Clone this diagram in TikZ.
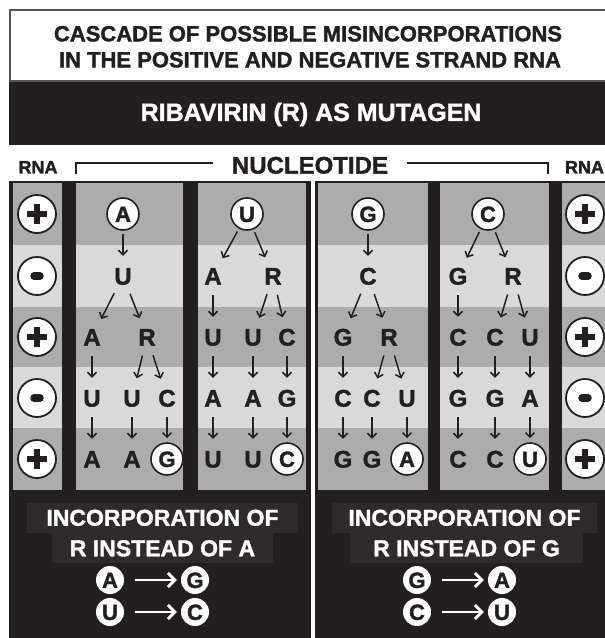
\documentclass[tikz,border=0pt]{standalone}
\usepackage{fontspec}
\setmainfont{Liberation Sans}[BoldFeatures={FakeBold=1.5}]
\usepackage{tikz}
\usetikzlibrary{arrows.meta,shapes}
\usetikzlibrary{positioning}

\definecolor{ink}{RGB}{35,31,32}
\definecolor{banddark}{RGB}{172,172,172}
\definecolor{bandlight}{RGB}{217,217,217}
\definecolor{boxshade}{RGB}{47,43,44}
\definecolor{rim}{RGB}{85,85,85}

\tikzset{
  nt/.style={circle, inner sep=0pt, minimum size=32pt, text=ink,
    font=\bfseries\fontsize{24}{24}\selectfont, text height=17.2pt, text depth=0pt},
  ntc/.style={nt, draw=ink, fill=white, line width=1.6pt,
    font=\bfseries\fontsize{22}{22}\selectfont, text height=15.8pt},
  arr/.style={-{Straight Barb[length=4.5pt, width=9pt]}, draw=ink, line width=1.5pt,
    shorten <=3pt, shorten >=4pt},
  sgn/.style={circle, draw=ink, fill=white, line width=1.8pt, minimum size=38pt, inner sep=0pt},
  bar/.style={draw=ink, line width=6.5pt},
  hd/.style={inner sep=0pt, text depth=0pt},
  bt/.style={hd, text=white, fill=boxshade, minimum height=30pt,
    font=\bfseries\fontsize{23}{23}\selectfont, text height=16.5pt},
  bc/.style={circle, fill=white, inner sep=0pt, minimum size=28pt, text=ink,
    font=\bfseries\fontsize{22}{22}\selectfont, text height=15.8pt, text depth=0pt},
  warr/.style={-{Straight Barb[length=7pt, width=14pt]}, draw=white, line width=2.8pt,
    shorten <=11pt, shorten >=4pt},
  brk/.style={draw=ink, line width=1.8pt}
}

\begin{document}
\begin{tikzpicture}[x=1pt, y=-1pt]
  \useasboundingbox (0,0) rectangle (605,638);

  % frame and titles
  \fill[ink] (9,9) rectangle (605,638);
  \draw[rim, line width=1.5pt, fill=white] (9.75,9.75) rectangle (607,81);
  \node (t1) [hd, text=ink, font=\bfseries\fontsize{22}{22}\selectfont, text height=15.7pt]
    at (308,33.5) {CASCADE OF POSSIBLE MISINCORPORATIONS};
  \node (t2) [hd, text=ink, font=\bfseries\fontsize{22}{22}\selectfont, text height=15.7pt]
    at (310,59.5) {IN THE POSITIVE AND NEGATIVE STRAND RNA};
  \node (rib) [hd, text=white, font=\bfseries\fontsize{25}{25}\selectfont, text height=17.9pt]
    at (311,112) {RIBAVIRIN (R) AS MUTAGEN};

  % strip with the bracket
  \fill[white] (9,145) rectangle (605,181);
  \node (rnal) [hd, text=ink, font=\bfseries\fontsize{18}{18}\selectfont, text height=12.9pt]
    at (38,167) {RNA};
  \node (rnar) [hd, text=ink, font=\bfseries\fontsize{18}{18}\selectfont, text height=12.9pt]
    at (584.5,167) {RNA};
  \node (nuc) [hd, text=ink, font=\bfseries\fontsize{24}{24}\selectfont, text height=17.2pt]
    at (310,165) {NUCLEOTIDE};
  \coordinate (bl) at (76,174);
  \coordinate (br) at (548,174);
  \draw[brk] (bl) |- ([xshift=-19pt, yshift=2pt]nuc.west);
  \draw[brk] ([xshift=19pt, yshift=2pt]nuc.east) -| (br);

  % columns
  \foreach \xa/\xb in {13/62, 76/183, 198/306, 318/428, 440/549, 562/605}
    \foreach \ya/\yb/\c in {183/245/banddark, 245/307/bandlight, 307/367/banddark,
                            367/428/bandlight, 428/490/banddark}
      \fill[\c] (\xa,\ya) rectangle (\xb,\yb);
  \fill[white] (311,181) rectangle (314.5,638);

  % strand signs
  \foreach \y [count=\i] in {214,276,337,398,459} {
    \node (l\i) [sgn] at (37,\y) {};
    \node (r\i) [sgn] at (585,\y) {};
  }
  \foreach \n in {l1,l3,l5,r1,r3,r5} {
    \draw[bar] ([xshift=-10pt]\n.center) -- ([xshift=10pt]\n.center);
    \draw[bar] ([yshift=-10pt]\n.center) -- ([yshift=10pt]\n.center);
  }
  \foreach \n in {l2,l4,r2,r4}
    \draw[bar, line width=7.5pt, line cap=round] ([xshift=-3pt]\n.center) -- ([xshift=3pt]\n.center);

  % A
  \node (a1) [ntc] at (123,214) {A};
  \node (a2) [nt] at (123,276) {U};
  \node (a3) [nt] at (92,337) {A};
  \node (a4) [nt] at (147,337) {R};
  \node (a5) [nt] at (92,398) {U};
  \node (a6) [nt] at (132,398) {U};
  \node (a7) [nt] at (167,398) {C};
  \node (a8) [nt] at (92,459) {A};
  \node (a9) [nt] at (132,459) {A};
  \node (a10) [ntc] at (167,459) {G};
  \draw[arr] (a1) -- (a2);
  \draw[arr] (a2) -- (a3);
  \draw[arr] (a2) -- (a4);
  \draw[arr] (a3) -- (a5);
  \draw[arr] (a4) -- (a6);
  \draw[arr] (a4) -- (a7);
  \draw[arr] (a5) -- (a8);
  \draw[arr] (a6) -- (a9);
  \draw[arr] (a7) -- (a10);

  % U
  \node (u1) [ntc] at (247,214) {U};
  \node (u2) [nt] at (213,276) {A};
  \node (u3) [nt] at (273,276) {R};
  \node (u4) [nt] at (213,337) {U};
  \node (u5) [nt] at (253,337) {U};
  \node (u6) [nt] at (287,337) {C};
  \node (u7) [nt] at (213,398) {A};
  \node (u8) [nt] at (253,398) {A};
  \node (u9) [nt] at (287,398) {G};
  \node (u10) [nt] at (213,459) {U};
  \node (u11) [nt] at (253,459) {U};
  \node (u12) [ntc] at (287,459) {C};
  \draw[arr] (u1) -- (u2);
  \draw[arr] (u1) -- (u3);
  \draw[arr] (u2) -- (u4);
  \draw[arr] (u3) -- (u5);
  \draw[arr] (u3) -- (u6);
  \draw[arr] (u4) -- (u7);
  \draw[arr] (u5) -- (u8);
  \draw[arr] (u6) -- (u9);
  \draw[arr] (u7) -- (u10);
  \draw[arr] (u8) -- (u11);
  \draw[arr] (u9) -- (u12);

  % G
  \node (g1) [ntc] at (368,214) {G};
  \node (g2) [nt] at (368,276) {C};
  \node (g3) [nt] at (343,337) {G};
  \node (g4) [nt] at (389,337) {R};
  \node (g5) [nt] at (343,398) {C};
  \node (g6) [nt] at (372,398) {C};
  \node (g7) [nt] at (407,398) {U};
  \node (g8) [nt] at (343,459) {G};
  \node (g9) [nt] at (372,459) {G};
  \node (g10) [ntc] at (407,459) {A};
  \draw[arr] (g1) -- (g2);
  \draw[arr] (g2) -- (g3);
  \draw[arr] (g2) -- (g4);
  \draw[arr] (g3) -- (g5);
  \draw[arr] (g4) -- (g6);
  \draw[arr] (g4) -- (g7);
  \draw[arr] (g5) -- (g8);
  \draw[arr] (g6) -- (g9);
  \draw[arr] (g7) -- (g10);

  % C
  \node (c1) [ntc] at (488,214) {C};
  \node (c2) [nt] at (458,276) {G};
  \node (c3) [nt] at (513,276) {R};
  \node (c4) [nt] at (458,337) {C};
  \node (c5) [nt] at (495,337) {C};
  \node (c6) [nt] at (530,337) {U};
  \node (c7) [nt] at (458,398) {G};
  \node (c8) [nt] at (495,398) {G};
  \node (c9) [nt] at (530,398) {A};
  \node (c10) [nt] at (458,459) {C};
  \node (c11) [nt] at (495,459) {C};
  \node (c12) [ntc] at (530,459) {U};
  \draw[arr] (c1) -- (c2);
  \draw[arr] (c1) -- (c3);
  \draw[arr] (c2) -- (c4);
  \draw[arr] (c3) -- (c5);
  \draw[arr] (c3) -- (c6);
  \draw[arr] (c4) -- (c7);
  \draw[arr] (c5) -- (c8);
  \draw[arr] (c6) -- (c9);
  \draw[arr] (c7) -- (c10);
  \draw[arr] (c8) -- (c11);
  \draw[arr] (c9) -- (c12);

  % summaries
  \node (li1) [bt, minimum width=271pt] at (162.5,517.5) {INCORPORATION OF};
  \node (li2) [bt, minimum width=221pt] at (162.5,548) {R INSTEAD OF A};
  \node (ri1) [bt, minimum width=265pt] at (464.5,517.5) {INCORPORATION OF};
  \node (ri2) [bt, minimum width=233pt] at (466.5,548) {R INSTEAD OF G};

  \node (la) [bc] at (110,580) {A};
  \node (lg) [bc] at (195,580) {G};
  \node (lu) [bc] at (110,612) {U};
  \node (lc) [bc] at (195,612) {C};
  \draw[warr] (la) -- (lg);
  \draw[warr] (lu) -- (lc);

  \node (rg) [bc] at (417,580) {G};
  \node (ra) [bc] at (502,580) {A};
  \node (rc) [bc] at (417,612) {C};
  \node (ru) [bc] at (502,612) {U};
  \draw[warr] (rg) -- (ra);
  \draw[warr] (rc) -- (ru);
\end{tikzpicture}
\end{document}
